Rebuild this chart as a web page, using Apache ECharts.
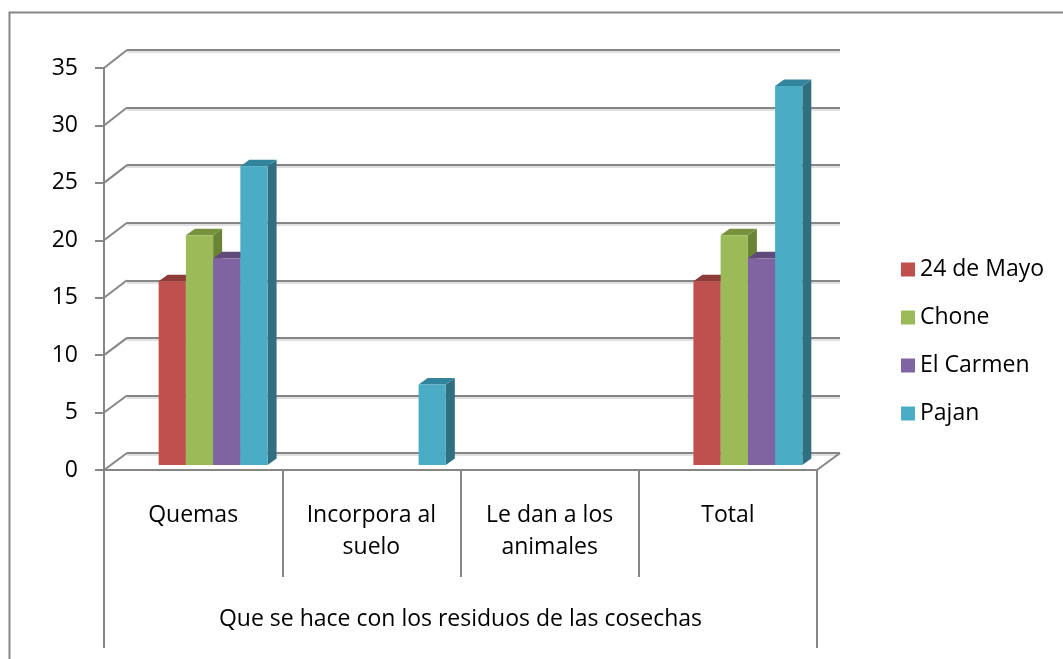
<!DOCTYPE html>
<html>
<head>
<meta charset="utf-8">
<script src="https://cdn.jsdelivr.net/npm/echarts@6/dist/echarts.min.js"></script>
<style>
  html, body { margin: 0; padding: 0; background: #ffffff; }
  #chart { width: 1063px; height: 659px; }
</style>
</head>
<body>
<div id="chart"></div>
<script>
// ---- data ----
const categories = ['Quemas', 'Incorpora al\nsuelo', 'Le dan a los\nanimales', 'Total'];
const axisTitle = 'Que se hace con los residuos de las cosechas';
const seriesNames = ['24 de Mayo', 'Chone', 'El Carmen', 'Pajan'];
const mayo24   = [16, 0, 0, 16];
const chone    = [20, 0, 0, 20];
const elCarmen = [18, 0, 0, 18];
const pajan    = [26, 7, 0, 33];
const valueMin = 0;
const valueMax = 35;
const valueStep = 5;

const seriesValues = [mayo24, chone, elCarmen, pajan];

// ---- look ----
const FONT = 'Open Sans';
const FS = 23;
const LINE = '#868686';
const palette = [
  { front: '#C0504D', top: '#8E3A38', side: '#853331' },
  { front: '#9BBB59', top: '#76923C', side: '#6A8435' },
  { front: '#8064A2', top: '#604A7B', side: '#5A4574' },
  { front: '#4BACC6', top: '#31849B', side: '#2F6F80' }
];
// front plane (axes), back wall (gridlines), bar plane
const FRONT = { left: 104, right: 246, top: 68, bottom: 189 };
const BACK  = { left: 127, right: 223, top: 50, bottom: 206 };
const BARS  = { left: 124, right: 226, top: 63, bottom: 194 };
const GAP = 0.389;          // share of category band left empty
const DEPTH = [9, 6.5];     // bar extrusion (right, up)

const chart = echarts.init(document.getElementById('chart'), null, { renderer: 'canvas' });

function renderBar(s) {
  const col = palette[s];
  const n = seriesValues.length;
  return function (params, api) {
    const cat = api.value(0);
    const val = api.value(1);
    if (!val) return null;
    const band = api.size([1, 0])[0];
    const bw = band * (1 - GAP) / n;
    const base = api.coord([cat, 0]);
    const head = api.coord([cat, val]);
    const x0 = base[0] - bw * n / 2 + s * bw;
    const x1 = x0 + bw;
    const y0 = base[1], y1 = head[1];
    const dx = DEPTH[0], dy = DEPTH[1];
    return {
      type: 'group',
      children: [
        { type: 'polygon', shape: { points: [[x1, y1], [x1 + dx, y1 - dy], [x1 + dx, y0 - dy], [x1, y0]] }, style: { fill: col.side } },
        { type: 'polygon', shape: { points: [[x0, y1], [x1, y1], [x1 + dx, y1 - dy], [x0 + dx, y1 - dy]] }, style: { fill: col.top } },
        { type: 'rect', shape: { x: x0, y: y1, width: bw, height: y0 - y1 }, style: { fill: col.front } }
      ]
    };
  };
}

const option = {
  animation: false,
  backgroundColor: '#ffffff',
  textStyle: { fontFamily: FONT, color: '#000000' },
  grid: [
    Object.assign({ containLabel: false }, FRONT),
    Object.assign({ containLabel: false }, BACK),
    Object.assign({ containLabel: false }, BARS)
  ],
  xAxis: [
    {
      gridIndex: 0, type: 'category', data: categories, position: 'bottom',
      axisLine: { show: true, lineStyle: { color: LINE, width: 2 } },
      axisTick: { show: true, length: 107, lineStyle: { color: LINE, width: 2 } },
      axisLabel: { interval: 0, fontFamily: FONT, fontSize: FS, color: '#000', lineHeight: 32, margin: 29, align: 'center' },
      splitLine: { show: false }
    },
    {
      gridIndex: 0, type: 'category', data: [axisTitle], position: 'bottom', offset: 0,
      axisLine: { show: false },
      axisTick: { show: true, length: 178, lineStyle: { color: LINE, width: 2 } },
      axisLabel: { interval: 0, fontFamily: FONT, fontSize: FS, color: '#000', lineHeight: 32, margin: 133 },
      splitLine: { show: false }
    },
    { gridIndex: 1, type: 'category', data: categories, show: false },
    { gridIndex: 2, type: 'category', data: categories, show: false }
  ],
  yAxis: [
    {
      gridIndex: 0, type: 'value', min: valueMin, max: valueMax, interval: valueStep,
      axisLine: { show: true, lineStyle: { color: LINE, width: 2 } },
      axisTick: { show: true, length: 9, lineStyle: { color: LINE, width: 2 } },
      axisLabel: { fontFamily: FONT, fontSize: FS, color: '#000', margin: 26 },
      splitLine: { show: false }
    },
    {
      gridIndex: 1, type: 'value', min: valueMin, max: valueMax, interval: valueStep,
      axisLine: { show: false }, axisTick: { show: false }, axisLabel: { show: false },
      splitLine: { show: true, lineStyle: { color: LINE, width: 2, shadowColor: 'rgba(0,0,0,0.12)', shadowOffsetY: 2, shadowBlur: 0 } }
    },
    {
      gridIndex: 2, type: 'value', min: valueMin, max: valueMax, interval: valueStep, show: false
    }
  ],
  legend: {
    orient: 'vertical', left: 901, top: 258, padding: 0,
    itemWidth: 14, itemHeight: 14, itemGap: 25,
    icon: 'rect',
    textStyle: { fontFamily: FONT, fontSize: FS, color: '#000' },
    data: seriesNames
  },
  series: seriesNames.map(function (name, s) {
    return {
      name: name,
      type: 'custom',
      xAxisIndex: 3, yAxisIndex: 2,
      itemStyle: { color: palette[s].front },
      renderItem: renderBar(s),
      encode: { x: 0, y: 1 },
      data: seriesValues[s].map(function (v, i) { return [i, v]; }),
      z: 3
    };
  })
};

chart.setOption(option);

// frame, depth lines from the front axis to the back wall, and floor edge
const frontX = FRONT.left;
const frontRight = 1063 - FRONT.right;
const backX = BACK.left;
const backRight = 1063 - BACK.right;
const frontZero = chart.convertToPixel({ yAxisIndex: 0 }, valueMin);
const backZero = chart.convertToPixel({ yAxisIndex: 1 }, valueMin);
const deco = [];
for (let v = valueMin; v <= valueMax; v += valueStep) {
  const yf = chart.convertToPixel({ yAxisIndex: 0 }, v);
  const yb = chart.convertToPixel({ yAxisIndex: 1 }, v);
  deco.push({
    type: 'line', silent: true, z: 1,
    shape: { x1: frontX, y1: yf, x2: backX, y2: yb },
    style: { stroke: LINE, lineWidth: 2 }
  });
}
deco.push({
  type: 'line', silent: true, z: 1,
  shape: { x1: frontRight, y1: frontZero, x2: backRight, y2: backZero },
  style: { stroke: LINE, lineWidth: 2 }
});
deco.push({
  type: 'polyline', silent: true, z: 1,
  shape: { points: [[9.5, 659], [9.5, 12.5], [1063, 12.5]] },
  style: { stroke: LINE, lineWidth: 2, fill: null }
});
chart.setOption({ graphic: deco });
</script>
</body>
</html>
